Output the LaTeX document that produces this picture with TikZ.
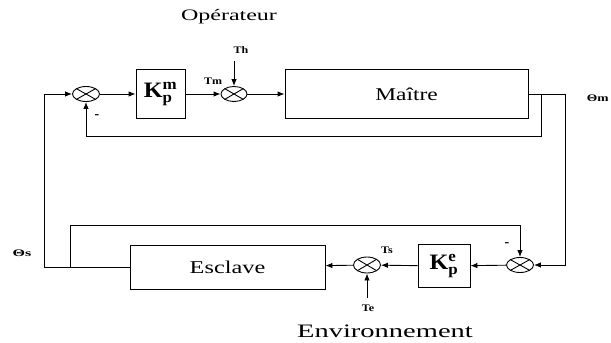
\documentclass[tikz,border=0pt]{standalone}
\usepackage{fontspec}
\setmainfont{Liberation Serif}
\usetikzlibrary{arrows.meta, shapes.geometric}
\newcommand{\wide}[2]{\scalebox{#1}[1]{#2}}
\tikzset{
  every picture/.style={line width=0.9pt},
  block/.style={draw, inner sep=0pt},
  sum/.style={draw, ellipse, minimum width=27pt, minimum height=15pt, inner sep=0pt,
    path picture={\draw (path picture bounding box.north west) -- (path picture bounding box.south east)
                        (path picture bounding box.north east) -- (path picture bounding box.south west);}},
  arrow/.style={-{Latex[length=7pt, width=5.5pt]}},
  sig/.style={font=\bfseries\fontsize{10}{10}\selectfont, inner sep=1pt},
  title/.style={font=\fontsize{#1}{#1}\selectfont, inner sep=0pt},
  title/.default=17,
}

\begin{document}
\begin{tikzpicture}[x=1pt, y=-1pt]
  \useasboundingbox (0,0) rectangle (611,343);
  % master side
  \node[sum] (sum1) at (86,94) {};
  \node[block, minimum width=49pt, minimum height=49pt] (kpm) at (160.5,94)
    {\fontsize{22}{22}\selectfont\wide{1.1}{$\mathbf{K}^{\mathbf{m}}_{\mathbf{p}}$}};
  \node[sum, minimum width=26pt] (sum2) at (234,94) {};
  \node[block, minimum width=243pt, minimum height=49pt] (maitre) at (406.5,94)
    {\fontsize{18}{18}\selectfont\wide{1.3}{Maître}};
  \coordinate (th) at (234,61);
  \coordinate (brM) at (541,94);

  % slave side
  \node[sum] (sum3) at (520,265) {};
  \node[block, minimum width=52pt, minimum height=43pt] (kpe) at (444,266)
    {\fontsize{22}{22}\selectfont\wide{1.1}{$\mathbf{K}^{\mathbf{e}}_{\mathbf{p}}$}};
  \node[sum, minimum height=16pt] (sum4) at (367,265) {};
  \node[block, minimum width=195pt, minimum height=44pt] (esclave) at (227.5,267)
    {\fontsize{18}{18}\selectfont\wide{1.35}{Esclave}};
  \coordinate (te) at (367,298);
  \coordinate (brS) at (70,267);

  \foreach \a/\b in {sum1/kpm, kpm/sum2, sum2/maitre, sum3/kpe, kpe/sum4, sum4/esclave} {
    \draw[arrow] (\a) -- (\b);
  }
  \draw[arrow] (th) -- (sum2);
  \draw[arrow] (te) -- (sum4);
  \draw[arrow] (maitre.east) -- ++(37,0) |- (sum3.east);
  \draw[arrow] (brM) -- ++(0,42) -| (sum1.south);
  \draw[arrow] (esclave.west) -- ++(-85,0) |- (sum1.west);
  \draw[arrow] (brS) -- ++(0,-42) -| (sum3.north);

  % labels
  \node[title=16] (oper) at (229,17) {\wide{1.5}{Opérateur}};
  \node[title=19] (envi) at (385,331) {\wide{1.5}{Environnement}};
  \node[sig] (lth) at (241,50) {\wide{1.2}{Th}};
  \node[sig] (ltm) at (213,81) {\wide{1.2}{Tm}};
  \node[sig] (lts) at (387,250) {\wide{1.2}{Ts}};
  \node[sig] (lte) at (368,308) {\wide{1.2}{Te}};
  \node[sig, anchor=east] (lom) at (610,98) {\wide{1.35}{Θm}};
  \node[sig] (los) at (22,253) {\wide{1.6}{Θs}};
  \node[sig, font=\bfseries\fontsize{14}{14}\selectfont] (m1) at (97,117) {-};
  \node[sig, font=\bfseries\fontsize{14}{14}\selectfont] (m3) at (507,245) {-};
\end{tikzpicture}
\end{document}
